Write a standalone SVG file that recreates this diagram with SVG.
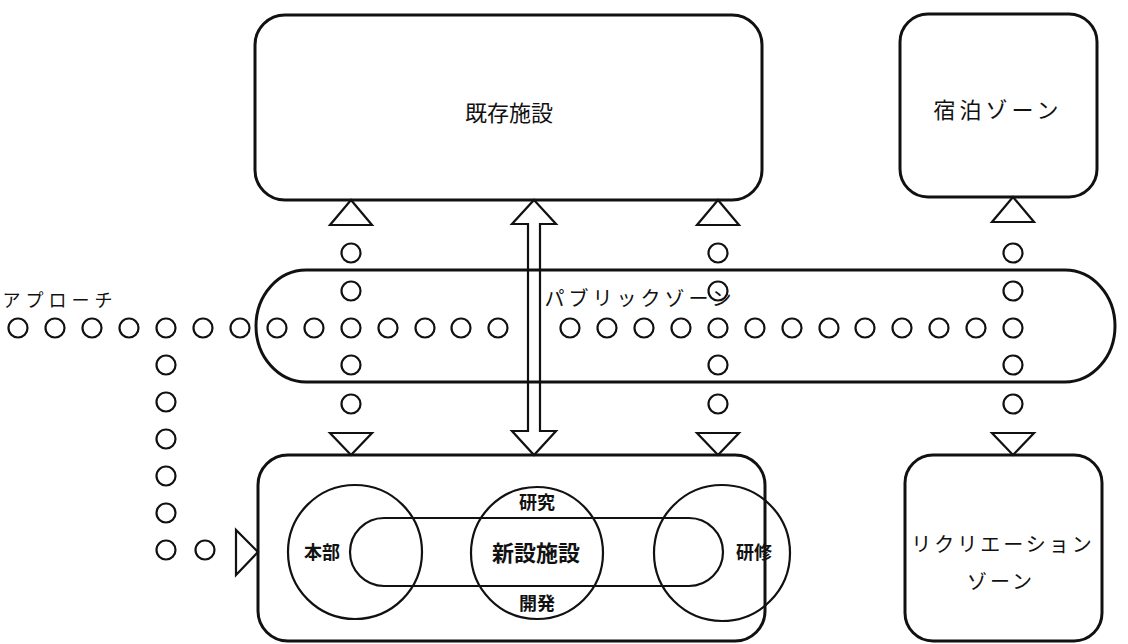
<svg xmlns="http://www.w3.org/2000/svg" width="1128" height="644" viewBox="0 0 1128 644">
<style>
.box{fill:none;stroke:#111;stroke-width:3}
.ln{fill:none;stroke:#111;stroke-width:2.2}
.dot{fill:none;stroke:#111;stroke-width:2.2}
.tri{fill:#fff;stroke:#111;stroke-width:2.2;stroke-linejoin:miter}
text{font-family:"Noto Sans CJK JP","Noto Sans CJK SC",sans-serif;fill:#111;text-anchor:middle}
.t22{font-size:22px}
.t20{font-size:20px}
.t18{font-size:18px}
.b{font-weight:700}
</style>
<defs>
<circle id="c" r="9.5" class="dot"/>
<path id="up" d="M0,0 L21,25 L-21,25 Z" class="tri"/>
<path id="dn" d="M0,0 L21,-22 L-21,-22 Z" class="tri"/>
</defs>
<rect width="1128" height="644" fill="#fff"/>

<g id="connectors">
  <path d="M534,200 L556,224 L540,224 L540,431 L556,431 L534,455 L512,431 L528,431 L528,224 L512,224 Z" fill="#fff" stroke="#111" stroke-width="2.2"/>
  <g id="approach-dots">
    <use href="#c" x="18" y="328"/><use href="#c" x="55" y="328"/><use href="#c" x="92" y="328"/>
    <use href="#c" x="129" y="328"/><use href="#c" x="166" y="328"/><use href="#c" x="203" y="328"/>
    <use href="#c" x="240" y="328"/><use href="#c" x="277" y="328"/><use href="#c" x="314" y="328"/>
    <use href="#c" x="351" y="328"/><use href="#c" x="388" y="328"/><use href="#c" x="425" y="328"/>
    <use href="#c" x="461" y="328"/><use href="#c" x="498" y="328"/>
    <use href="#c" x="570" y="328"/><use href="#c" x="607" y="328"/><use href="#c" x="644" y="328"/>
    <use href="#c" x="681" y="328"/><use href="#c" x="718" y="328"/><use href="#c" x="755" y="328"/>
    <use href="#c" x="792" y="328"/><use href="#c" x="829" y="328"/><use href="#c" x="865" y="328"/>
    <use href="#c" x="902" y="328"/><use href="#c" x="939" y="328"/><use href="#c" x="976" y="328"/>
    <use href="#c" x="1013" y="328"/>
    <use href="#c" x="166" y="365"/><use href="#c" x="166" y="402"/><use href="#c" x="166" y="439"/>
    <use href="#c" x="166" y="476"/><use href="#c" x="166" y="513"/><use href="#c" x="166" y="550"/>
    <use href="#c" x="205" y="550"/>
    <use href="#c" x="351" y="253"/><use href="#c" x="351" y="291"/><use href="#c" x="351" y="365"/><use href="#c" x="351" y="404"/>
    <use href="#c" x="718" y="253"/><use href="#c" x="718" y="291"/><use href="#c" x="718" y="365"/><use href="#c" x="718" y="404"/>
    <use href="#c" x="1013" y="253"/><use href="#c" x="1013" y="291"/><use href="#c" x="1013" y="365"/><use href="#c" x="1013" y="404"/>
  </g>
  <use href="#up" x="351" y="200"/>
  <use href="#up" x="718" y="200"/>
  <use href="#up" x="1013" y="197"/>
  <use href="#dn" x="351" y="455"/>
  <use href="#dn" x="718" y="455"/>
  <use href="#dn" x="1013" y="455"/>
  <path d="M258,552 L236,530 L236,575 Z" class="tri"/>
</g>

<g id="public-zone">
  <rect x="256" y="270" width="859" height="112" rx="50" ry="56" class="box"/>
  <text x="640" y="306" class="t20" letter-spacing="4">パブリックゾーン</text>
</g>

<g id="approach-label">
  <text x="60" y="307" class="t18" letter-spacing="5">アプローチ</text>
</g>

<g id="existing">
  <rect x="255" y="15" width="507" height="185" rx="30" class="box"/>
  <text x="509" y="121" class="t22">既存施設</text>
</g>

<g id="lodging">
  <rect x="900" y="14" width="197" height="183" rx="28" class="box"/>
  <text x="998" y="118" class="t22" letter-spacing="4">宿泊ゾーン</text>
</g>

<g id="recreation">
  <rect x="905" y="455" width="197" height="186" rx="28" class="box"/>
  <text x="1003" y="552" class="t20" letter-spacing="3">リクリエーション</text>
  <text x="1001" y="589" class="t20" letter-spacing="3">ゾーン</text>
</g>

<g id="new-facility">
  <rect x="258" y="455" width="507" height="186" rx="30" class="box"/>
  <rect x="350" y="518" width="373" height="68" rx="34" class="ln"/>
  <circle cx="355" cy="552" r="67" class="ln"/>
  <circle cx="537" cy="553" r="66" class="ln"/>
  <circle cx="722" cy="553" r="68" class="ln"/>
  <text x="322" y="559" class="t18 b">本部</text>
  <text x="536" y="561" class="t22 b">新設施設</text>
  <text x="537" y="509" class="t18 b">研究</text>
  <text x="537" y="610" class="t18 b">開発</text>
  <text x="754" y="559" class="t18 b">研修</text>
</g>
</svg>
